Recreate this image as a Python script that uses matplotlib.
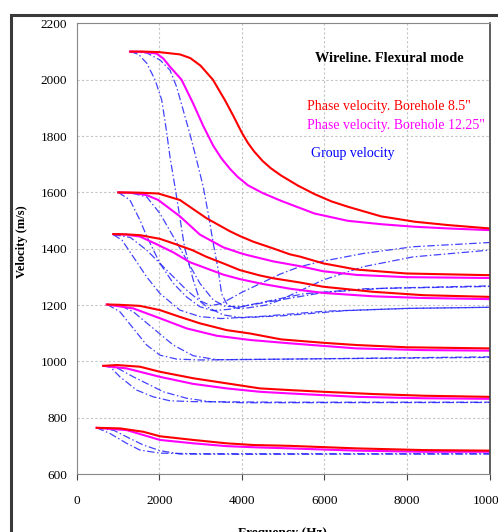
import matplotlib
matplotlib.use('Agg')
import matplotlib.pyplot as plt

# phase velocity, borehole 8.5" (one list per mode)
red_f = [
    [1300, 1600, 2000, 2500, 2750, 3000, 3300, 3600, 3800, 4000, 4150, 4300, 4500, 4700, 4950, 5360, 5760, 6170, 6570, 7370, 8180, 8990, 10000],
    [1008, 1500, 1976, 2500, 3147, 3711, 3953, 4276, 4760, 5164, 5408, 5971, 6779, 7990, 10000],
    [887, 1200, 1536, 2017, 2340, 2800, 3147, 3550, 3953, 4438, 4760, 5408, 5971, 7181, 8393, 10000],
    [741, 1008, 1532, 2017, 2500, 2985, 3631, 4196, 4953, 5971, 6779, 7990, 10000],
    [644, 968, 1532, 2017, 2823, 3631, 4438, 5164, 5971, 7181, 8393, 10000],
    [484, 1048, 1613, 2017, 2823, 3631, 4276, 5164, 6779, 8393, 10000],
]
red_v = [
    [2100, 2100, 2098, 2090, 2077, 2050, 2000, 1925, 1870, 1812, 1775, 1745, 1712, 1686, 1660, 1624, 1594, 1568, 1549, 1515, 1496, 1484, 1472],
    [1600, 1599, 1596, 1573, 1508, 1462, 1445, 1425, 1401, 1380, 1372, 1348, 1326, 1312, 1306],
    [1452, 1451, 1448, 1435, 1419, 1395, 1371, 1348, 1324, 1305, 1295, 1280, 1265, 1247, 1235, 1229],
    [1202, 1201, 1197, 1182, 1158, 1135, 1111, 1099, 1078, 1066, 1058, 1050, 1046],
    [984, 987, 981, 963, 940, 922, 904, 898, 892, 884, 878, 874],
    [764, 762, 750, 734, 721, 709, 703, 700, 691, 685, 683],
]

# phase velocity, borehole 12.25"
mag_f = [
    [1290, 1600, 1935, 2100, 2260, 2540, 2820, 3065, 3310, 3500, 3710, 3900, 4150, 4500, 4950, 5760, 6570, 7375, 8180, 8990, 10000],
    [1008, 1400, 1700, 1976, 2500, 2985, 3550, 3953, 4116, 4760, 5408, 5971, 6779, 7990, 10000],
    [887, 1200, 1536, 1950, 2340, 2743, 3147, 3550, 3953, 4500, 5164, 5971, 7181, 8400, 10000],
    [726, 1371, 2017, 2663, 3389, 4196, 5164, 6779, 8393, 10000],
    [644, 1210, 2017, 2823, 3631, 4438, 5164, 6779, 8393, 10000],
    [484, 1210, 2017, 2823, 3631, 4276, 5164, 6779, 8393, 10000],
]
mag_v = [
    [2100, 2099, 2093, 2075, 2046, 2000, 1916, 1836, 1765, 1722, 1684, 1655, 1625, 1598, 1570, 1525, 1499, 1487, 1478, 1472, 1466],
    [1600, 1598, 1590, 1573, 1515, 1450, 1405, 1385, 1378, 1355, 1338, 1320, 1307, 1299, 1296],
    [1452, 1450, 1443, 1415, 1387, 1352, 1330, 1308, 1292, 1275, 1258, 1243, 1231, 1225, 1221],
    [1202, 1188, 1153, 1117, 1091, 1076, 1064, 1046, 1040, 1038],
    [984, 975, 945, 920, 904, 892, 886, 874, 869, 867],
    [764, 756, 721, 709, 699, 695, 691, 683, 679, 679],
]

# group velocity (two curves per mode)
grp_f = [
    [1300, 1500, 1700, 1900, 2060, 2160, 2260, 2380, 2500, 2610, 2823, 2985, 3250, 3500, 4000, 4930, 5400, 5970, 6940, 8150, 10000],
    [1300, 1700, 2020, 2260, 2420, 2580, 2740, 2905, 3065, 3186, 3307, 3429, 3510, 3650, 3900, 4150, 4600, 4930, 5400, 5970, 6940, 8150, 10000],
    [1008, 1290, 1530, 1700, 2017, 2340, 2660, 2985, 3300, 3700, 4500, 5500, 7000, 10000],
    [1008, 1400, 1695, 2017, 2340, 2663, 2985, 3307, 3600, 4000, 5000, 6000, 7500, 10000],
    [887, 1100, 1371, 1695, 2017, 2500, 2985, 3500, 4500, 6000, 8000, 10000],
    [887, 1300, 1695, 2179, 2663, 3147, 3550, 4000, 5000, 6500, 8000, 10000],
    [741, 1048, 1371, 1695, 2017, 2421, 3000, 5000, 10000],
    [741, 1100, 1371, 1855, 2339, 2823, 3389, 4500, 10000],
    [644, 806, 1048, 1453, 1855, 2259, 2823, 5000, 10000],
    [644, 1000, 1371, 1774, 2097, 2663, 3228, 4035, 10000],
    [484, 806, 1210, 1532, 2017, 3000, 10000],
    [484, 900, 1210, 1613, 2017, 2500, 4000, 10000],
]
grp_v = [
    [2100, 2090, 2058, 1999, 1928, 1833, 1726, 1620, 1510, 1407, 1289, 1215, 1198, 1205, 1245, 1310, 1336, 1356, 1383, 1407, 1422],
    [2100, 2095, 2070, 2034, 1975, 1892, 1809, 1715, 1620, 1525, 1420, 1324, 1240, 1200, 1188, 1190, 1200, 1218, 1250, 1289, 1336, 1371, 1395],
    [1600, 1573, 1502, 1443, 1348, 1277, 1229, 1194, 1180, 1185, 1210, 1240, 1258, 1266],
    [1600, 1595, 1584, 1525, 1443, 1360, 1277, 1218, 1195, 1195, 1220, 1245, 1260, 1268],
    [1450, 1430, 1371, 1300, 1241, 1182, 1159, 1152, 1160, 1178, 1188, 1192],
    [1450, 1440, 1395, 1324, 1253, 1194, 1165, 1155, 1162, 1180, 1188, 1192],
    [1202, 1176, 1117, 1058, 1022, 1008, 1005, 1008, 1014],
    [1202, 1195, 1176, 1117, 1058, 1020, 1006, 1007, 1016],
    [984, 981, 945, 898, 874, 860, 857, 855, 855],
    [984, 975, 945, 916, 892, 869, 857, 853, 854],
    [764, 744, 709, 685, 674, 672, 672],
    [764, 755, 732, 703, 683, 671, 670, 671],
]

x_ticks = [0, 2000, 4000, 6000, 8000, 10000]
y_ticks = [600, 800, 1000, 1200, 1400, 1600, 1800, 2000, 2200]

plt.rcParams['font.family'] = ['Liberation Serif', 'DejaVu Serif']

fig = plt.figure(figsize=(4.98, 5.32), dpi=100)
ax = fig.add_axes([0.154, 0.109, 0.829, 0.847])

# outer frame of the original picture (cut by the canvas on right/bottom)
frame = plt.Rectangle((0.022, -1), 2, 1.972, transform=fig.transFigure,
                      fill=False, lw=2.2, ec='#3a3a3a', clip_on=False)
fig.patches.append(frame)

for f, v in zip(grp_f, grp_v):
    ax.plot(f, v, color='#2222ff', lw=0.9, ls=(0, (6, 2, 1.2, 2)), alpha=0.85)
for f, v in zip(mag_f, mag_v):
    ax.plot(f, v, color='#ff00ff', lw=1.5)
for f, v in zip(red_f, red_v):
    ax.plot(f, v, color='#ff0000', lw=1.5)

ax.set_xlim(0, 10000)
ax.set_ylim(600, 2200)
ax.set_xticks(x_ticks)
ax.set_yticks(y_ticks)
ax.set_xticklabels([str(t) for t in x_ticks], fontsize=9.5)
ax.set_yticklabels([str(t) for t in y_ticks], fontsize=9.5)
ax.tick_params(axis='x', direction='out', length=4, pad=11, color='#444444')
ax.tick_params(axis='y', direction='out', length=0, pad=7)
ax.grid(True, color='#c4c4c4', lw=0.8, ls=(0, (2, 2)))

for s in ['left', 'bottom', 'top']:
    ax.spines[s].set_color('#888888')
ax.spines['right'].set_color('#444444')
ax.spines['right'].set_linewidth(1.2)

ax.text(0.758, 0.923, 'Wireline. Flexural mode', transform=ax.transAxes,
        ha='center', va='center', fontsize=10.3, fontweight='bold', color='black')
ax.text(0.558, 0.8165, 'Phase velocity. Borehole 8.5"', transform=ax.transAxes,
        ha='left', va='center', fontsize=10, color='#ff0000')
ax.text(0.558, 0.773, 'Phase velocity. Borehole 12.25"', transform=ax.transAxes,
        ha='left', va='center', fontsize=10, color='#ff00ff')
ax.text(0.567, 0.711, 'Group velocity', transform=ax.transAxes,
        ha='left', va='center', fontsize=10, color='#0000ff')

fig.text(0.044, 0.545, 'Velocity (m/s)', rotation=90, ha='center', va='center',
         fontsize=9, fontweight='bold')
fig.text(0.568, 0.0094, 'Frequency (Hz)', ha='center', va='top',
         fontsize=9.5, fontweight='bold')

plt.savefig('out.png', dpi=100)
